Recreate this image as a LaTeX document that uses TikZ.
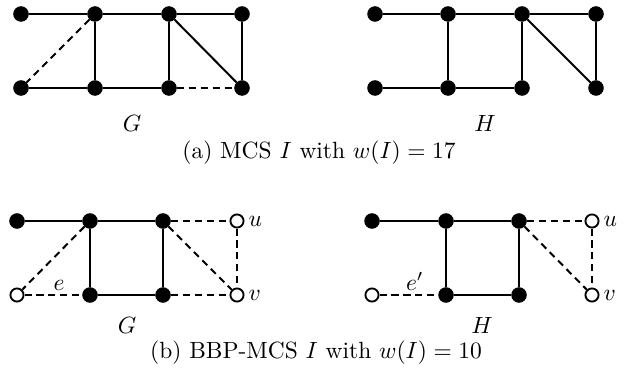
\documentclass[tikz,border=0pt]{standalone}
\begin{document}
\begin{tikzpicture}[x=0.426pt,y=-0.426pt,
  fv/.style={circle,fill=black,draw=black,inner sep=0pt,minimum size=6.2pt},
  hv/.style={circle,fill=white,draw=black,line width=0.8pt,inner sep=0pt,minimum size=5.6pt},
  ed/.style={line width=0.85pt},
  de/.style={line width=0.85pt,dash pattern=on 3pt off 2.1pt},
  lab/.style={inner sep=0pt}]
\useasboundingbox (0,0) rectangle (625,382);
% ---------- (a) G ----------
\node[fv] (ga1) at (21,14) {};
\node[fv] (ga2) at (95,14) {};
\node[fv] (ga3) at (169,14) {};
\node[fv] (ga4) at (242,14) {};
\node[fv] (gb1) at (21,88) {};
\node[fv] (gb2) at (95,88) {};
\node[fv] (gb3) at (169,88) {};
\node[fv] (gb4) at (242,88) {};
\draw[ed] (ga1) -- (ga2) -- (ga3) -- (ga4);
\draw[ed] (gb1) -- (gb2) -- (gb3);
\draw[de] (gb3) -- (gb4);
\draw[ed] (ga2) -- (gb2);
\draw[ed] (ga3) -- (gb3);
\draw[ed] (ga4) -- (gb4);
\draw[ed] (ga3) -- (gb4);
\draw[de] (ga2) -- (gb1);
\node[lab] (gl) at (132,123) {$G$};
% ---------- (a) H ----------
\node[fv] (ha1) at (375,14) {};
\node[fv] (ha2) at (448,14) {};
\node[fv] (ha3) at (522,14) {};
\node[fv] (ha4) at (596,14) {};
\node[fv] (hb1) at (375,88) {};
\node[fv] (hb2) at (448,88) {};
\node[fv] (hb3) at (522,88) {};
\node[fv] (hb4) at (596,88) {};
\draw[ed] (ha1) -- (ha2) -- (ha3) -- (ha4);
\draw[ed] (hb1) -- (hb2) -- (hb3);
\draw[ed] (ha2) -- (hb2);
\draw[ed] (ha3) -- (hb3);
\draw[ed] (ha4) -- (hb4);
\draw[ed] (ha3) -- (hb4);
\node[lab] (hl) at (485,123) {$H$};
\node[lab] (capa) at (319,153) {(a) MCS $I$ with $w(I)=17$};
% ---------- (b) G ----------
\node[fv] (Ga1) at (17,221) {};
\node[fv] (Ga2) at (90,221) {};
\node[fv] (Ga3) at (163,221) {};
\node[hv] (Ga4) at (237,221) {};
\node[hv] (Gb1) at (17,295) {};
\node[fv] (Gb2) at (90,295) {};
\node[fv] (Gb3) at (163,295) {};
\node[hv] (Gb4) at (237,295) {};
\draw[ed] (Ga1) -- (Ga2) -- (Ga3);
\draw[de] (Ga3) -- (Ga4);
\draw[de] (Ga2) -- (Gb1);
\draw[de] (Gb1) -- node[pos=0.6,above=0pt,inner sep=1.5pt] (le) {$e$} (Gb2);
\draw[ed] (Gb2) -- (Gb3);
\draw[de] (Gb3) -- (Gb4);
\draw[ed] (Ga2) -- (Gb2);
\draw[ed] (Ga3) -- (Gb3);
\draw[de] (Ga4) -- (Gb4);
\draw[de] (Ga3) -- (Gb4);
\node[lab,anchor=west] (Gu) at ([xshift=1.5pt]Ga4.east) {$u$};
\node[lab,anchor=west] (Gv) at ([xshift=1.5pt]Gb4.east) {$v$};
\node[lab] (Gl) at (127,325) {$G$};
% ---------- (b) H ----------
\node[fv] (Ha1) at (372,221) {};
\node[fv] (Ha2) at (446,221) {};
\node[fv] (Ha3) at (519,221) {};
\node[hv] (Ha4) at (592,221) {};
\node[hv] (Hb1) at (372,295) {};
\node[fv] (Hb2) at (446,295) {};
\node[fv] (Hb3) at (519,295) {};
\node[hv] (Hb4) at (592,295) {};
\draw[ed] (Ha1) -- (Ha2) -- (Ha3);
\draw[de] (Ha3) -- (Ha4);
\draw[de] (Hb1) -- node[pos=0.6,above=0pt,inner sep=1.5pt] (lep) {$e'$} (Hb2);
\draw[ed] (Hb2) -- (Hb3);
\draw[ed] (Ha2) -- (Hb2);
\draw[ed] (Ha3) -- (Hb3);
\draw[de] (Ha4) -- (Hb4);
\draw[de] (Ha3) -- (Hb4);
\node[lab,anchor=west] (Hu) at ([xshift=1.5pt]Ha4.east) {$u$};
\node[lab,anchor=west] (Hv) at ([xshift=1.5pt]Hb4.east) {$v$};
\node[lab] (Hl) at (482,325) {$H$};
\node[lab] (capb) at (316,353) {(b) BBP-MCS $I$ with $w(I)=10$};
\end{tikzpicture}
\end{document}
